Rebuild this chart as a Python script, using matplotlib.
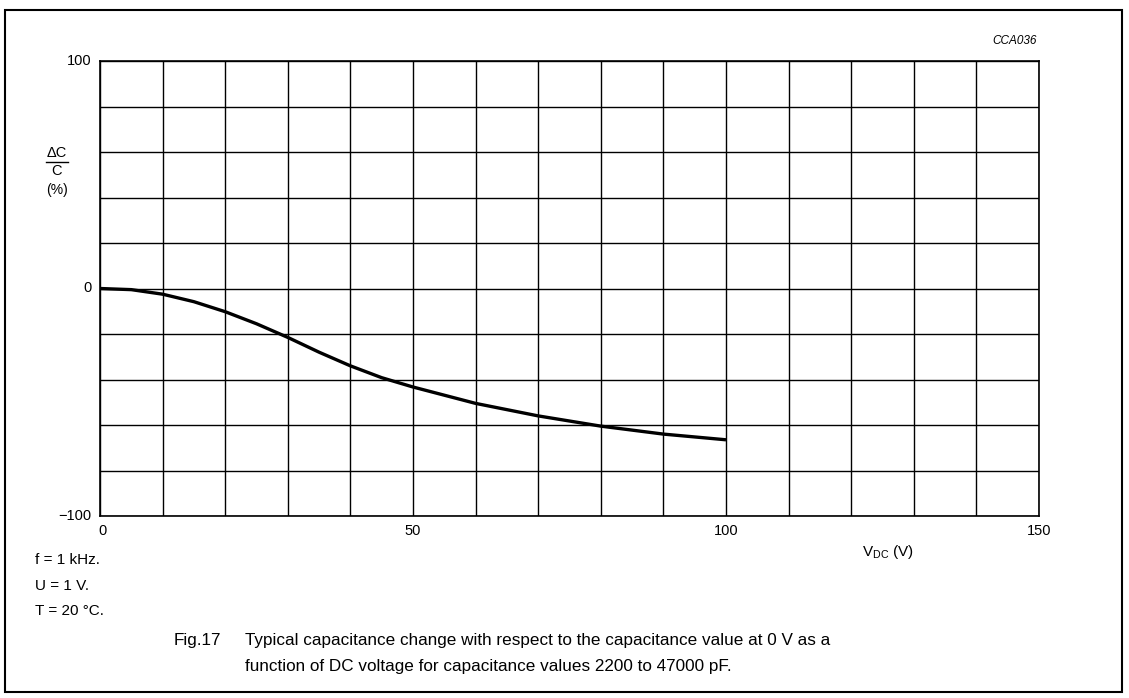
import matplotlib
matplotlib.use("Agg")
import matplotlib.pyplot as plt
from matplotlib.lines import Line2D
from matplotlib.patches import Rectangle

# values (V_DC in V, dC/C in %)
voltage = [0, 5, 10, 15, 20, 25, 30, 35, 40, 45, 50, 60, 70, 80, 90, 100]
delta_c = [0, -0.5, -2.5, -5.8, -10.2, -15.5, -21.5, -28.0, -34.0, -39.2, -43.3,
           -50.5, -56.0, -60.5, -64.0, -66.5]

x_ticks = [0, 50, 100, 150]
y_ticks = [-100, 0, 100]
notes = ["f = 1 kHz.", "U = 1 V.", "T = 20 \u00b0C."]
caption = [
    "Typical capacitance change with respect to the capacitance value at 0 V as a",
    "function of DC voltage for capacitance values 2200 to 47000 pF.",
]

plt.rcParams["font.family"] = ["Liberation Sans", "DejaVu Sans"]

W, H = 1129, 698
fig = plt.figure(figsize=(W / 100, H / 100), dpi=100)


def fx(x):
    return x / W


def fy(y):
    return 1 - y / H


ax = fig.add_axes([fx(100), fy(516), fx(1039) - fx(100), fy(61) - fy(516)])
ax.plot(voltage, delta_c, color="black", linewidth=2.4, solid_capstyle="butt")
ax.set_xlim(0, 150)
ax.set_ylim(-100, 100)

ax.set_xticks(range(0, 151, 10))
ax.set_yticks(range(-100, 101, 20))
ax.set_xticklabels([])
ax.set_yticklabels([])
ax.tick_params(length=0)
ax.grid(True, color="black", linewidth=1.0)
for sp in ax.spines.values():
    sp.set_linewidth(1.2)

# tick labels placed by data coordinates
for v in x_ticks:
    ax.text(v + (0.4 if v == 0 else 0), -103.5, str(v), ha="center", va="top",
            fontsize=10.5)
for v in y_ticks:
    lab = str(v).replace("-", "\u2212")
    ax.text(-1.3, v, lab, ha="right", va="center", fontsize=10.5)

# axis labels
fig.text(fx(888), fy(552), "V$_{\\mathregular{DC}}$ (V)", ha="center",
         va="center", fontsize=11)
fig.text(fx(57), fy(153), "\u0394C", ha="center", va="center", fontsize=10.5)
fig.add_artist(Line2D([fx(46), fx(68)], [fy(162), fy(162)], color="black",
                      linewidth=1.0))
fig.text(fx(57), fy(171), "C", ha="center", va="center", fontsize=10.5)
fig.text(fx(57), fy(190), "(%)", ha="center", va="center", fontsize=10)

fig.text(fx(1037), fy(41), "CCA036", ha="right", va="center", fontsize=8.5,
         style="italic")

for i, t in enumerate(notes):
    fig.text(fx(35), fy(560 + 25.5 * i), t, ha="left", va="center", fontsize=11)

fig.text(fx(174), fy(641), "Fig.17", ha="left", va="center", fontsize=12.3)
for i, t in enumerate(caption):
    fig.text(fx(245), fy(641 + 26 * i), t, ha="left", va="center", fontsize=12.3)

fig.add_artist(Rectangle((fx(5), fy(692)), fx(1122) - fx(5), fy(10) - fy(692),
                         fill=False, edgecolor="black", linewidth=1.5,
                         transform=fig.transFigure))

fig.savefig("out.png", dpi=100)
